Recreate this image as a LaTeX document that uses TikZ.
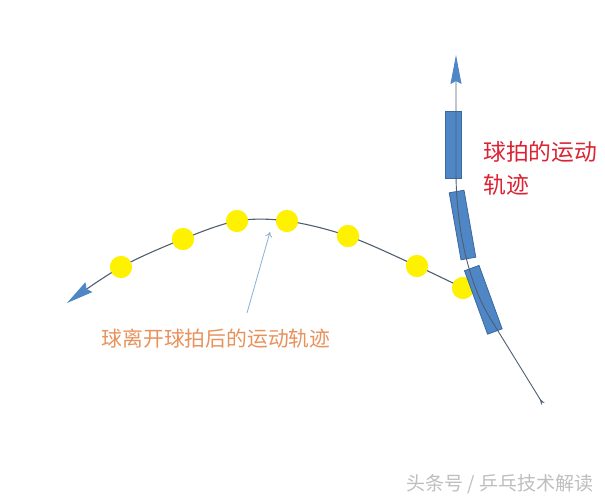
\documentclass[tikz,border=0pt]{standalone}
\usepackage{fontspec}
\setmainfont{Noto Sans CJK SC}
\usetikzlibrary{arrows.meta}
\definecolor{rackblue}{RGB}{79,134,198}
\definecolor{rackedge}{RGB}{58,104,160}
\definecolor{trajgray}{RGB}{80,94,114}
\definecolor{annblue}{RGB}{140,175,210}
\definecolor{orangetxt}{RGB}{232,146,92}
\definecolor{redtxt}{RGB}{218,36,52}
\definecolor{wmgray}{RGB}{190,190,190}
\tikzset{
  ball/.style={circle, fill=yellow, draw=none, minimum size=22pt, inner sep=0pt},
  racket/.style={rectangle, fill=rackblue, draw=rackedge, line width=0.8pt, inner sep=0pt},
  traj/.style={draw=trajgray, line width=1.1pt},
  bigtip/.style={-{Stealth[length=27pt,width=12pt,inset=3pt,fill=rackblue,color=rackblue]}},
}
\begin{document}
\begin{tikzpicture}[x=1pt,y=-1pt]
\useasboundingbox (0,0) rectangle (605,500);
\fill[white] (0,0) rectangle (605,500);
% balls
\node[ball] (b7) at (463,288) {};
\node[ball] (b6) at (417,266) {};
\node[ball] (b5) at (348,236) {};
\node[ball] (b4) at (287,221) {};
\node[ball] (b3) at (237,221) {};
\node[ball] (b2) at (183,239) {};
\node[ball] (b1) at (121,267) {};
\coordinate (ballend) at (67,303);
% ball trajectory
\draw[traj, bigtip] plot[smooth, tension=0.55] coordinates {(b7.center) (b6.center) (b5.center) (b4.center) (b3.center) (b2.center) (b1.center) (ballend)};
% redraw balls on top of line
\foreach \n in {b1,b2,b3,b4,b5,b6,b7} {\fill[yellow] (\n) circle (11pt);}
% rackets
\node[racket, minimum width=16pt, minimum height=67pt] (r1) at (453,144.5) {};
\node[racket, minimum width=15pt, minimum height=68pt, rotate=10] (r2) at (462.5,225) {};
\node[racket, minimum width=15.5pt, minimum height=67.5pt, rotate=20] (r3) at (483.3,299.8) {};
% racket trajectory
\coordinate (rstart) at (543,404);
\coordinate (rmid) at (490,318);
\coordinate (rbend) at (456,172);
\coordinate (rtop) at (456,55);
\draw[traj, line width=0.9pt, {Stealth[length=6pt,width=4pt,reversed]}-{Stealth[length=29pt,width=11pt,inset=3pt,fill=rackblue,color=rackblue]}]
  (rstart) -- (rmid) .. controls (466,279) and (456,220) .. (rbend) -- (rtop);
% annotation arrow
\coordinate (a1) at (247,313);
\coordinate (a2) at (270,232);
\draw[annblue, line width=0.8pt, -{To[length=5pt,width=7pt]}] (a1) -- (a2);
% texts
\node[text=orangetxt, font=\fontsize{20.8}{24}\selectfont, inner sep=0pt] (t1) at (216,339) {球离开球拍后的运动轨迹};
\node[text=redtxt, font=\fontsize{22.8}{33}\selectfont, inner sep=0pt, align=left, anchor=west] (t2) at (483,168) {球拍的运动\\轨迹};
\node[text=wmgray, font=\fontsize{19}{22}\selectfont, inner sep=0pt] (wm) at (500,484) {头条号 / 乒乓技术解读};
\end{tikzpicture}
\end{document}
